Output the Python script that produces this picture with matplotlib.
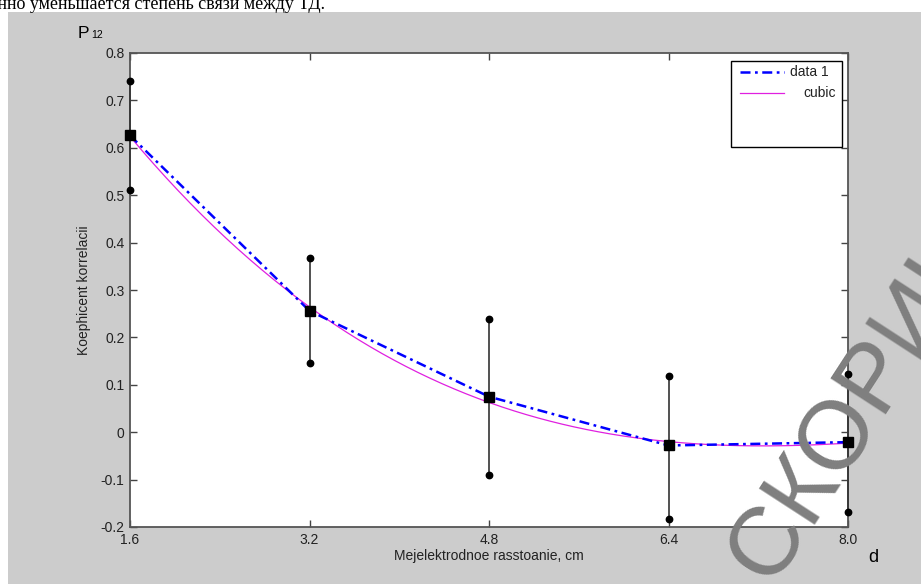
import numpy as np
import matplotlib
matplotlib.use("Agg")
import matplotlib.pyplot as plt
from matplotlib.patches import Rectangle
from matplotlib.lines import Line2D

# ---- data ----
distance = [1.6, 3.2, 4.8, 6.4, 8.0]
corr_mean = [0.626, 0.256, 0.075, -0.028, -0.021]
corr_upper = [0.740, 0.368, 0.239, 0.119, 0.122]
corr_lower = [0.511, 0.145, -0.090, -0.183, -0.169]
xtick_labels = ["1.6", "3.2", "4.8", "6.4", "8.0"]
yticks = [-0.2, -0.1, 0, 0.1, 0.2, 0.3, 0.4, 0.5, 0.6, 0.7, 0.8]
ytick_labels = ["-0.2", "-0.1", "0", "0.1", "0.2", "0.3", "0.4", "0.5", "0.6", "0.7", "0.8"]

W, H = 921, 584
fig = plt.figure(figsize=(W / 100, H / 100), dpi=100)
fig.patch.set_facecolor("white")
fig.add_artist(Rectangle((8 / W, 0), 1, 1 - 12 / H, transform=fig.transFigure,
                         facecolor="#cccccc", edgecolor="none", zorder=-5))

# cut-off text line of the page above the figure
fig.text(325 / W, 1 - 9 / H, "постепенно уменьшается степень связи между ТД.",
         ha="right", va="baseline", fontsize=13, family="Liberation Serif", color="black")

ax = fig.add_axes([130 / W, 57 / H, 718 / W, 474 / H])
ax.set_facecolor("white")

x = np.array(distance)
m = np.array(corr_mean)

# data 1 (dash-dot blue)
ax.plot(x, m, color="#0000ff", lw=1.8, dashes=(4.0, 1.8, 1.1, 1.8), zorder=3)

# cubic fit (magenta)
coef = np.polyfit(x, m, 3)
xs = np.linspace(x.min(), x.max(), 300)
ax.plot(xs, np.polyval(coef, xs), color="#e020e0", lw=0.9, zorder=2)

# error bars
ax.vlines(x, corr_lower, corr_upper, colors="#333333", lw=1.2, zorder=4, clip_on=False)
ax.plot(x, corr_upper, "o", color="black", ms=4.6, zorder=5, clip_on=False)
ax.plot(x, corr_lower, "o", color="black", ms=4.6, zorder=5, clip_on=False)
ax.plot(x, m, "s", color="black", ms=6.5, zorder=6, clip_on=False)

ax.set_xlim(1.6, 8.0)
ax.set_ylim(-0.2, 0.8)
ax.set_xticks(distance)
ax.set_xticklabels(xtick_labels)
ax.set_yticks(yticks)
ax.set_yticklabels(ytick_labels)
ax.tick_params(direction="in", length=5, width=1, color="#444444",
               top=True, right=True, labelsize=10, labelcolor="#222222", pad=4)
for lab in ax.get_xticklabels() + ax.get_yticklabels():
    lab.set_family("Liberation Sans")
for s in ax.spines.values():
    s.set_color("#555555")
    s.set_linewidth(1.3)

ax.set_xlabel("Mejelektrodnoe rasstoanie, cm", fontsize=10, family="Liberation Sans", color="#222222")
ax.xaxis.set_label_coords(0.5, -(549 - 527) / 474)
ax.set_ylabel("Koephicent korrelacii", fontsize=10, family="Liberation Sans", color="#222222")
ax.yaxis.set_label_coords((91 - 130) / 718, 0.5)

# legend (MATLAB style)
lx0, lx1 = (731 - 130) / 718, (842 - 130) / 718
ly0, ly1 = (527 - 147) / 474, (527 - 61) / 474
ax.add_patch(Rectangle((lx0, ly0), lx1 - lx0, ly1 - ly0, transform=ax.transAxes,
                       facecolor="white", edgecolor="black", lw=1.0, zorder=7))
y1 = (527 - 72) / 474
y2 = (527 - 93) / 474
ax.add_line(Line2D([(740 - 130) / 718, (784 - 130) / 718], [y1, y1], transform=ax.transAxes,
                   color="#0000ff", lw=1.8, dashes=(4.0, 1.8, 1.1, 1.8), zorder=8))
ax.add_line(Line2D([(740 - 130) / 718, (784 - 130) / 718], [y2, y2], transform=ax.transAxes,
                   color="#e020e0", lw=0.9, zorder=8))
ax.text((790 - 130) / 718, y1, "data 1", transform=ax.transAxes, ha="left", va="center",
        fontsize=10, family="Liberation Sans", color="#222222", zorder=9)
ax.text((803 - 130) / 718, y2, "cubic", transform=ax.transAxes, ha="left", va="center",
        fontsize=10, family="Liberation Sans", color="#222222", zorder=9)

# axis symbols
fig.text(78 / W, 1 - 38 / H, "P", fontsize=12.5, family="Liberation Sans", va="baseline", color="black")
fig.text(91 / W, 1 - 38 / H, "12", fontsize=7.5, family="Liberation Sans", va="baseline", color="black")
fig.text(868 / W, 1 - 562 / H, "d", fontsize=13, family="Liberation Sans", va="baseline", color="black")

# watermark
fig.text(770 / W, 1 - 585 / H, "СКОРИНЫ", rotation=57, rotation_mode="anchor",
         ha="left", va="baseline", fontsize=70, family="Liberation Sans",
         color="#7f7f7f", zorder=20)

fig.savefig("out.png", dpi=100, facecolor=fig.get_facecolor())
